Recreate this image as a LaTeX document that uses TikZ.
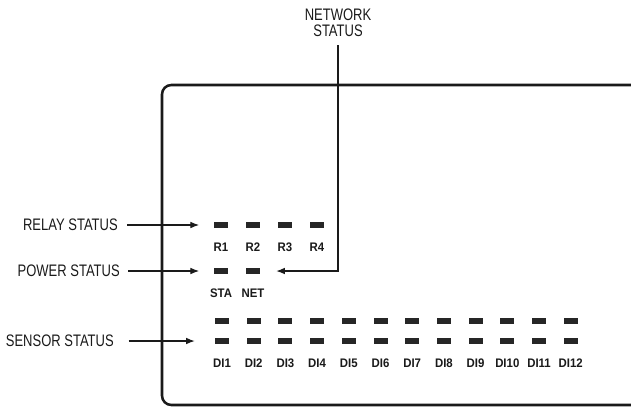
\documentclass[tikz,border=0pt]{standalone}
\usepackage{fontspec}
\setmainfont{Liberation Sans}
\newfontfamily\labelfont[FakeStretch=0.78]{Liberation Sans}
\newfontfamily\ledfont[FakeStretch=0.92]{Liberation Sans}
\definecolor{ledfill}{HTML}{262626}
\definecolor{linemain}{HTML}{1A1A1A}
\usetikzlibrary{arrows.meta, positioning}

\begin{document}
\begin{tikzpicture}[
        x=0.75pt, y=-0.75pt,
        led/.style={
            rectangle,
            fill=ledfill,
            minimum width=10.5pt,
            minimum height=5.2pt,
            inner sep=0pt
        },
        ledtag/.style={
            font=\ledfont\fontsize{9.3}{10}\selectfont\bfseries,
            text=linemain,
            inner sep=0pt
        },
        status/.style={
            font=\labelfont\fontsize{12.5}{12}\selectfont,
            text=linemain,
            align=center,
            inner sep=0pt
        },
        arrow/.style={
            -{Latex[length=6.5pt, width=5pt]},
            draw=linemain,
            line width=0.8pt
        }
    ]
    \useasboundingbox (0,0) rectangle (631,408);

    % Device housing (runs off the right edge)
    \draw[line width=1.9pt, draw=linemain, rounded corners=7pt]
        (634,85) -- (162,85) -- (162,405) -- (634,405);

    % Relay LEDs
    \foreach \i in {1,...,4} {
        \node[led] (r\i) at ({221+32*(\i-1)},225) {};
        \node[ledtag, below=10.5pt of r\i] (r\i tag) {R\i};
    }

    % Power / network LEDs
    \node[led] (sta) at (221,271) {};
    \node[ledtag, below=10.5pt of sta] (statag) {STA};
    \node[led] (net) at (253,271) {};
    \node[ledtag, below=10.5pt of net] (nettag) {NET};

    % Sensor LEDs (two rows)
    \foreach \i in {1,...,12} {
        \node[led] (du\i) at ({222+31.7*(\i-1)},321) {};
        \node[led] (d\i) at ({222+31.7*(\i-1)},341) {};
        \node[ledtag, below=10.5pt of d\i] (d\i tag) {DI\i};
    }

    % Callouts
    \node[status, anchor=east] (relay) at (118,225) {RELAY STATUS};
    \node[status, anchor=east] (power) at (120,271) {POWER STATUS};
    \node[status, anchor=east] (sensor) at (114,341) {SENSOR STATUS};
    \node[status] (network) at (338,23) {NETWORK\\STATUS};

    % Arrows
    \draw[arrow, shorten <=7pt, shorten >=11pt] (relay.east) -- (r1.west);
    \draw[arrow, shorten <=6pt, shorten >=11pt] (power.east) -- (sta.west);
    \draw[arrow, shorten <=11pt, shorten >=15pt] (sensor.east) -- (d1.west);
    \draw[arrow, shorten <=6pt, shorten >=12pt] (network.south) |- (net.east);

\end{tikzpicture}
\end{document}
